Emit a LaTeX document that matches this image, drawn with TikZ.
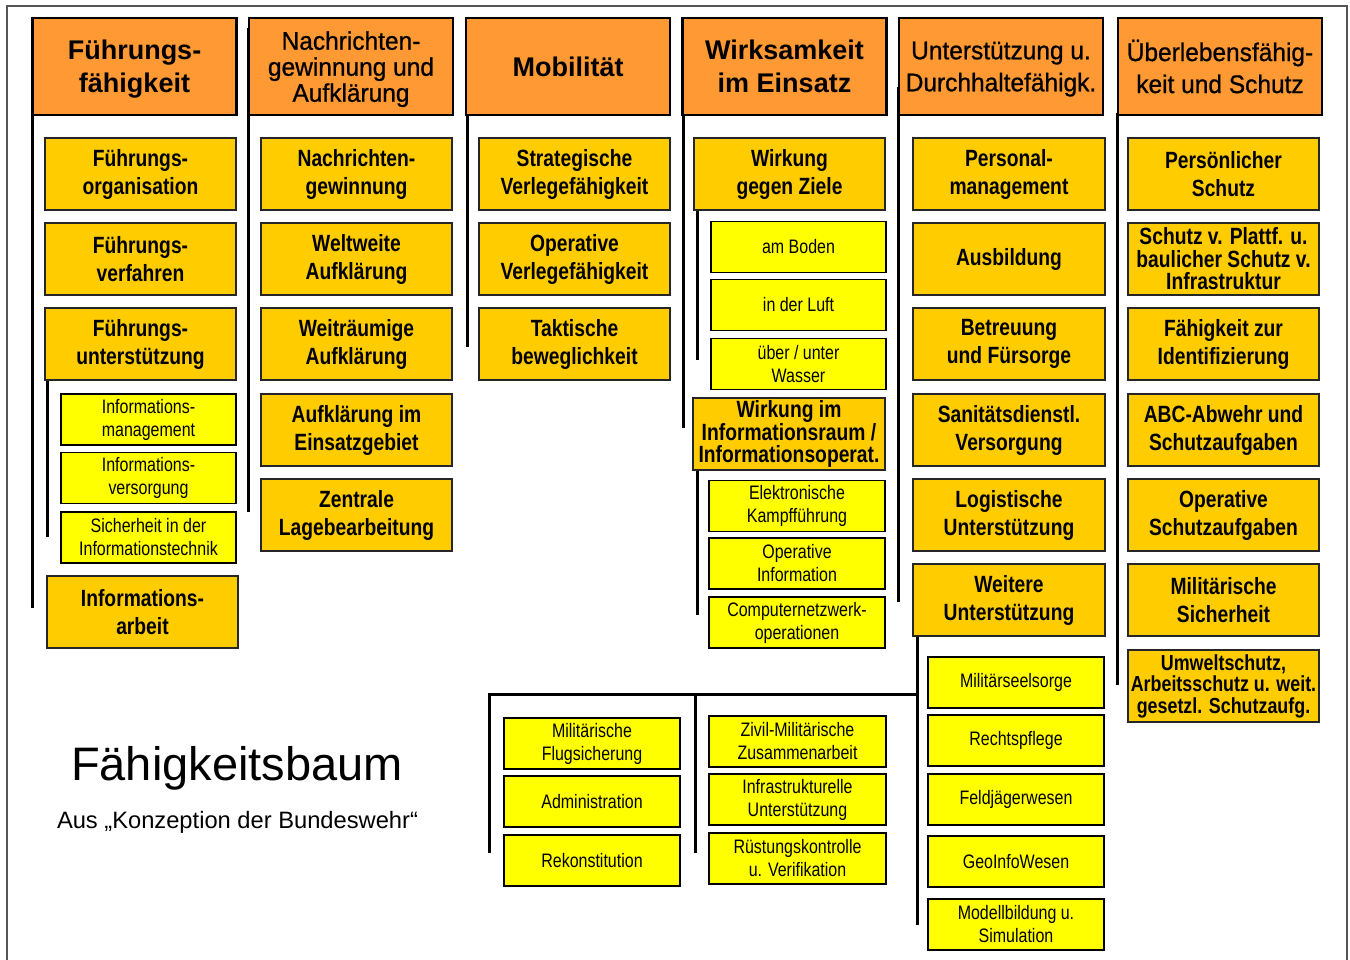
\documentclass[tikz,border=0pt]{standalone}
\usepackage{fontspec}
\setmainfont{Liberation Sans}
\newfontfamily\narrowfont[FakeStretch=0.82]{Liberation Sans}
\newfontfamily\hnarrowfont[FakeStretch=0.96,FakeBold=0.8]{Liberation Sans}
\definecolor{hdrorange}{HTML}{FF9933}
\definecolor{childorange}{HTML}{FFCC00}
\definecolor{smallyellow}{HTML}{FFFF00}
\definecolor{framegray}{HTML}{555555}
\tikzset{
  hdr/.style={draw=black, line width=2.5pt, fill=hdrorange, minimum width=204pt, minimum height=97pt, inner sep=0pt, align=center, text=black},
  hdrB/.style={hdr, font=\bfseries\fontsize{27}{33}\selectfont},
  hdrN/.style={hdr, font=\hnarrowfont\fontsize{25.5}{32}\selectfont},
  hdrN3/.style={hdr, font=\hnarrowfont\fontsize{25.5}{26}\selectfont},
  child/.style={draw=black!85, line width=1.3pt, fill=childorange, minimum width=191pt, minimum height=72pt, inner sep=0pt, align=center, text=black, font=\narrowfont\bfseries\fontsize{23.5}{28}\selectfont},
  childthree/.style={child, font=\narrowfont\bfseries\fontsize{23.5}{22.5}\selectfont},
  small/.style={draw=black, line width=1.3pt, fill=smallyellow, minimum width=175pt, minimum height=51pt, inner sep=0pt, align=center, text=black, font=\narrowfont\fontsize{19.5}{23}\selectfont},
  trunk/.style={draw=black, line width=3pt},
}
\begin{document}
\begin{tikzpicture}[x=1pt, y=-1pt]
\useasboundingbox (0,0) rectangle (1350,960);
% frame
\coordinate (fa) at (7,975);
\coordinate (fb) at (7,6);
\coordinate (fc) at (1347,6);
\coordinate (fd) at (1347,975);
\draw[framegray, line width=1.3pt] (fa) -- (fb) -- (fc) -- (fd);

% trunk lines (drawn first, under boxes)
\coordinate (t1a) at (32,93);   \coordinate (t1b) at (32,608);
\coordinate (t1c) at (47,380);  \coordinate (t1d) at (47,537);
\coordinate (t2a) at (248,28);  \coordinate (t2b) at (248,512);
\coordinate (t3a) at (467,42);  \coordinate (t3b) at (467,347);
\coordinate (t4a) at (683,35);  \coordinate (t4b) at (683,428);
\coordinate (t4c) at (697,210); \coordinate (t4d) at (697,360);
\coordinate (t4e) at (697,470); \coordinate (t4f) at (697,615);
\coordinate (t5a) at (898,87);  \coordinate (t5b) at (898,602);
\coordinate (t5c) at (917,636); \coordinate (t5d) at (917,925);
\coordinate (hz1) at (489,694); \coordinate (hz2) at (917,694);
\coordinate (hz3) at (695,694);
\coordinate (b1) at (489,853);  \coordinate (b2) at (695,853);
\coordinate (t6a) at (1117,113); \coordinate (t6b) at (1117,685);
\draw[trunk] (t1a) -- (t1b);
\draw[trunk] (t1c) -- (t1d);
\draw[trunk] (t2a) -- (t2b);
\draw[trunk] (t3a) -- (t3b);
\draw[trunk] (t4a) -- (t4b);
\draw[trunk] (t4c) -- (t4d);
\draw[trunk] (t4e) -- (t4f);
\draw[trunk] (t5a) -- (t5b);
\draw[trunk] (t5c) -- (t5d);
\draw[trunk] (t6a) -- (t6b);
\draw[trunk] (b1) -- (hz1) -- (hz2);
\draw[trunk] (hz3) -- (b2);

% headers
\node[hdrB, text depth=-4pt]  (H1) at (134.5,66.5) {Führungs-\\fähigkeit};
\node[hdrN3, text depth=-3.5pt] (H2) at (351,66.5) {Nachrichten-\\gewinnung und\\Aufklärung};
\node[hdrB]  (H3) at (568,66.5) {Mobilität};
\node[hdrB, text depth=-4pt]  (H4) at (784.5,66.5) {Wirksamkeit\\im Einsatz};
\node[hdrN, text depth=0pt]  (H5) at (1001,66.5) {Unterstützung u.\\Durchhaltefähigk.};
\node[hdrN]  (H6) at (1220,66.5) {Überlebensfähig-\\keit und Schutz};

% column 1
\node[child] (c11) at (140.5,174) {Führungs-\\organisation};
\node[child] (c12) at (140.5,259) {Führungs-\\verfahren};
\node[child] (c13) at (140.5,344) {Führungs-\\unterstützung};
\node[small] (s11) at (148.5,419.5) {Informations-\\management};
\node[small] (s12) at (148.5,478) {Informations-\\versorgung};
\node[small] (s13) at (148.5,537.5) {Sicherheit in der\\Informationstechnik};
\node[child] (c14) at (142.5,612) {Informations-\\arbeit};

% column 2
\node[child] (c21) at (356.5,174) {Nachrichten-\\gewinnung};
\node[child] (c22) at (356.5,259) {Weltweite\\Aufklärung};
\node[child] (c23) at (356.5,344) {Weiträumige\\Aufklärung};
\node[child] (c24) at (356.5,430) {Aufklärung im\\Einsatzgebiet};
\node[child] (c25) at (356.5,515) {Zentrale\\Lagebearbeitung};

% column 3
\node[child] (c31) at (574.5,174) {Strategische\\Verlegefähigkeit};
\node[child] (c32) at (574.5,259) {Operative\\Verlegefähigkeit};
\node[child] (c33) at (574.5,344) {Taktische\\beweglichkeit};

% column 4
\node[child] (c41) at (789.5,174) {Wirkung\\gegen Ziele};
\node[small] (s41) at (798.5,247) {am Boden};
\node[small] (s42) at (798.5,305) {in der Luft};
\node[small] (s43) at (798.5,364) {über / unter\\Wasser};
\node[childthree, minimum width=192pt] (c42) at (789,434) {Wirkung im\\Informationsraum /\\Informationsoperat.};
\node[small, minimum width=176pt] (s44) at (797,506) {Elektronische\\Kampfführung};
\node[small, minimum width=176pt] (s45) at (797,563.5) {Operative\\Information};
\node[small, minimum width=176pt] (s46) at (797,622.5) {Computernetzwerk-\\operationen};

% column 5
\node[child, minimum width=192pt] (c51) at (1009,174) {Personal-\\management};
\node[child, minimum width=192pt] (c52) at (1009,259) {Ausbildung};
\node[child, minimum width=192pt] (c53) at (1009,344) {Betreuung\\und Fürsorge};
\node[child, minimum width=192pt] (c54) at (1009,430) {Sanitätsdienstl.\\Versorgung};
\node[child, minimum width=192pt] (c55) at (1009,515) {Logistische\\Unterstützung};
\node[child, minimum width=192pt] (c56) at (1009,600) {Weitere\\Unterstützung};
\node[small, minimum width=176pt] (s51) at (1016,682.5) {Militärseelsorge};
\node[small, minimum width=176pt] (s52) at (1016,740.5) {Rechtspflege};
\node[small, minimum width=176pt] (s53) at (1016,799.5) {Feldjägerwesen};
\node[small, minimum width=176pt] (s54) at (1016,861.5) {GeoInfoWesen};
\node[small, minimum width=176pt] (s55) at (1016,924.5) {Modellbildung u.\\Simulation};

% column 6
\node[child] (c61) at (1223.5,174) {Persönlicher\\Schutz};
\node[childthree] (c62) at (1223.5,259) {Schutz v. Plattf. u.\\baulicher Schutz v.\\Infrastruktur};
\node[child] (c63) at (1223.5,344) {Fähigkeit zur\\Identifizierung};
\node[child] (c64) at (1223.5,430) {ABC-Abwehr und\\Schutzaufgaben};
\node[child] (c65) at (1223.5,515) {Operative\\Schutzaufgaben};
\node[child] (c66) at (1223.5,600) {Militärische\\Sicherheit};
\node[childthree, font=\narrowfont\bfseries\fontsize{21.8}{21.5}\selectfont] (c67) at (1223.5,686) {Umweltschutz,\\Arbeitsschutz u. weit.\\gesetzl. Schutzaufg.};

% bottom groups
\node[small, minimum width=176pt] (s61) at (592,743.5) {Militärische\\Flugsicherung};
\node[small, minimum width=176pt] (s62) at (592,801.5) {Administration};
\node[small, minimum width=176pt] (s63) at (592,860.5) {Rekonstitution};
\node[small, minimum width=177pt] (s71) at (797.5,741.5) {Zivil-Militärische\\Zusammenarbeit};
\node[small, minimum width=177pt] (s72) at (797.5,799.5) {Infrastrukturelle\\Unterstützung};
\node[small, minimum width=177pt] (s73) at (797.5,858.5) {Rüstungskontrolle\\u. Verifikation};

% title
\node[anchor=base, font=\fontsize{47}{50}\selectfont, inner sep=0pt] (title) at (237,780) {Fähigkeitsbaum};
\node[anchor=base, font=\fontsize{23.7}{26}\selectfont, inner sep=0pt] (subtitle) at (237.5,828) {Aus „Konzeption der Bundeswehr“};
\end{tikzpicture}
\end{document}
